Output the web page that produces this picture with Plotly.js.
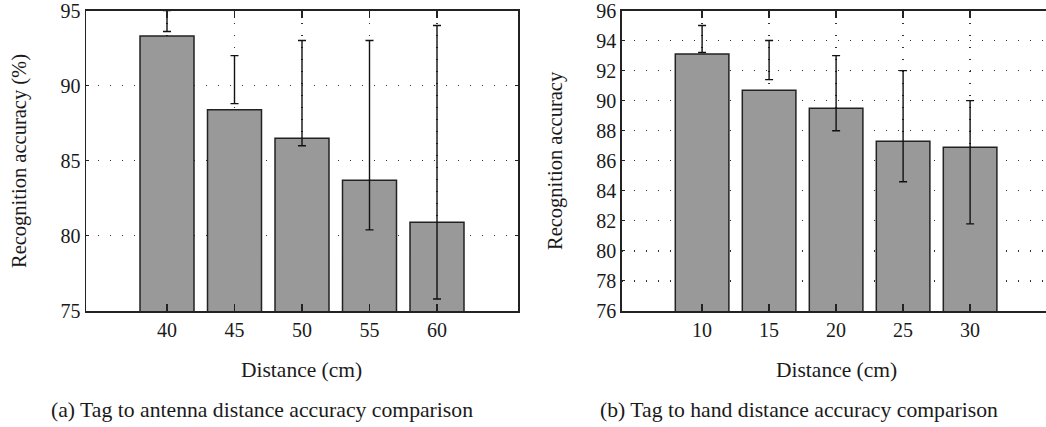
<!DOCTYPE html>
<html>
<head>
<meta charset="utf-8">
<script src="https://cdn.plot.ly/plotly-3.0.1.min.js"></script>
<style>
html, body { margin: 0; padding: 0; overflow: hidden; background: #fff; }
#chart { width: 1056px; height: 427px; }
</style>
</head>
<body>
<div id="chart"></div>
<script>
// Panel (a): tag to antenna distance
const distA = [40, 45, 50, 55, 60];
const accA = [93.3, 88.4, 86.5, 83.7, 80.9];
const errHighA = [95.0, 92.0, 93.0, 93.0, 94.0];
const errLowA = [93.6, 88.8, 86.0, 80.4, 75.8];

// Panel (b): tag to hand distance
const distB = [10, 15, 20, 25, 30];
const accB = [93.1, 90.7, 89.5, 87.3, 86.9];
const errHighB = [95.0, 94.0, 93.0, 92.0, 90.0];
const errLowB = [93.2, 91.4, 88.0, 84.6, 81.8];

const ticksA = [75, 80, 85, 90, 95];
const ticksB = [76, 78, 80, 82, 84, 86, 88, 90, 92, 94, 96];

const FONT = "'Liberation Serif', 'DejaVu Serif', serif";
const INK = '#1a1a1a';
const W = 1056, H = 427;

function barTrace(x, y, xa, ya) {
  return {
    type: 'bar', x: x, y: y, xaxis: xa, yaxis: ya, width: 4,
    marker: { color: '#999999', line: { color: '#222222', width: 1.5 } },
    hoverinfo: 'x+y', showlegend: false
  };
}
function errTrace(x, hi, lo, xa, ya) {
  const mid = hi.map((h, i) => (h + lo[i]) / 2);
  const half = hi.map((h, i) => (h - lo[i]) / 2);
  return {
    type: 'scatter', mode: 'markers', x: x, y: mid, xaxis: xa, yaxis: ya,
    marker: { size: 1, color: 'rgba(0,0,0,0)' },
    error_y: { type: 'data', array: half, symmetric: true, visible: true,
               color: '#111111', thickness: 1.4, width: 4 },
    showlegend: false, hoverinfo: 'skip'
  };
}

function px(x) { return x / W; }
function py(y) { return (H - y) / H; }

const gridCommon = {
  showgrid: true, gridcolor: '#333333', gridwidth: 1.2, griddash: '1.2px,10.8px',
  showline: true, linecolor: '#222222', linewidth: 1.5, mirror: 'ticks',
  zeroline: false, ticks: 'inside', tickcolor: '#222222',
  ticklabeloverflow: 'allow',
  tickfont: { family: FONT, size: 20, color: INK }
};

const layout = {
  width: W, height: H,
  margin: { l: 0, r: 0, t: 0, b: 0 },
  paper_bgcolor: '#ffffff', plot_bgcolor: '#ffffff',
  font: { family: FONT, color: INK },
  bargap: 0,
  xaxis: Object.assign({}, gridCommon, {
    domain: [px(86), px(518)], range: [34, 66],
    tickmode: 'array', tickvals: distA, ticktext: distA.map(String),
    ticklen: 7, tickwidth: 1.2, anchor: 'y'
  }),
  yaxis: Object.assign({}, gridCommon, {
    domain: [py(311), py(10.5)], range: [75, 95],
    tickmode: 'array', tickvals: ticksA, ticklen: 3, tickwidth: 1, anchor: 'x'
  }),
  xaxis2: Object.assign({}, gridCommon, {
    domain: [px(621.7), px(1050.5)], range: [4, 36],
    tickmode: 'array', tickvals: distB, ticktext: distB.map(String),
    ticklen: 7, tickwidth: 1.2, anchor: 'y2'
  }),
  yaxis2: Object.assign({}, gridCommon, {
    domain: [py(311), py(10.5)], range: [76, 96],
    tickmode: 'array', tickvals: ticksB, ticklen: 3, tickwidth: 1, anchor: 'x2'
  }),
  annotations: [
    { text: 'Recognition accuracy (%)', xref: 'paper', yref: 'paper',
      x: px(19), y: py(161), textangle: -90, showarrow: false,
      xanchor: 'center', yanchor: 'middle', font: { family: FONT, size: 20.5, color: INK } },
    { text: 'Recognition accuracy', xref: 'paper', yref: 'paper',
      x: px(555), y: py(161), textangle: -90, showarrow: false,
      xanchor: 'center', yanchor: 'middle', font: { family: FONT, size: 20.5, color: INK } },
    { text: 'Distance (cm)', xref: 'paper', yref: 'paper',
      x: px(301), y: py(370), showarrow: false,
      xanchor: 'center', yanchor: 'middle', font: { family: FONT, size: 21.5, color: INK } },
    { text: 'Distance (cm)', xref: 'paper', yref: 'paper',
      x: px(836), y: py(370), showarrow: false,
      xanchor: 'center', yanchor: 'middle', font: { family: FONT, size: 21.5, color: INK } },
    { text: '(a) Tag to antenna distance accuracy comparison', xref: 'paper', yref: 'paper',
      x: px(261.5), y: py(410), showarrow: false,
      xanchor: 'center', yanchor: 'middle', font: { family: FONT, size: 21.7, color: INK } },
    { text: '(b) Tag to hand distance accuracy comparison', xref: 'paper', yref: 'paper',
      x: px(799), y: py(410), showarrow: false,
      xanchor: 'center', yanchor: 'middle', font: { family: FONT, size: 21.7, color: INK } }
  ]
};

const data = [
  barTrace(distA, accA, 'x', 'y'),
  errTrace(distA, errHighA, errLowA, 'x', 'y'),
  barTrace(distB, accB, 'x2', 'y2'),
  errTrace(distB, errHighB, errLowB, 'x2', 'y2')
];

Plotly.newPlot('chart', data, layout, { staticPlot: true, displayModeBar: false });
</script>
</body>
</html>
